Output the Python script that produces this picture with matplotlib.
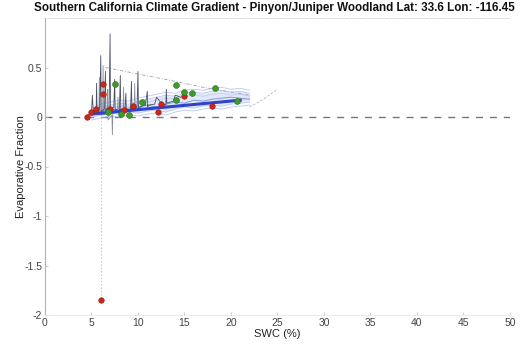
import matplotlib
matplotlib.use("Agg")
import matplotlib.pyplot as plt
import numpy as np

plt.rcParams['font.family'] = ['Liberation Sans', 'DejaVu Sans']

# Daily evaporative fraction traces vs soil water content
spike_x = [4.6, 5.0, 5.1, 5.2, 5.5, 5.55, 5.6, 5.9, 6.0, 6.05, 6.1, 6.4, 6.5, 6.55, 6.6,
           6.9, 7.0, 7.05, 7.1, 7.4, 7.5, 7.55, 7.6, 8.0, 8.1, 8.15, 8.2, 8.6, 8.7, 8.75,
           8.8, 9.2, 9.3, 9.35, 9.4, 9.9, 10.0, 10.05, 10.1, 10.8, 11.0, 11.05, 11.1,
           11.8, 12.0, 12.6, 13.0, 13.05, 13.1, 13.8, 14.0, 14.6]
spike_y = [0.02, 0.04, 0.22, 0.05, 0.06, 0.34, 0.05, 0.10, 0.62, 0.02, 0.06, 0.08, 0.46,
           0.04, 0.08, 0.10, 0.84, 0.03, 0.08, 0.10, 0.38, 0.05, 0.08, 0.06, 0.42, 0.06,
           0.08, 0.08, 0.24, 0.05, 0.08, 0.07, 0.36, 0.06, 0.09, 0.10, 0.46, 0.08, 0.10,
           0.12, 0.26, 0.10, 0.12, 0.13, 0.20, 0.13, 0.12, 0.28, 0.14, 0.16, 0.22, 0.20]

spike2_x = [5.3, 5.8, 5.85, 5.9, 6.2, 6.25, 6.3, 6.7, 6.75, 6.8, 7.2, 7.25, 7.3, 7.8, 7.85,
            7.9, 8.4, 8.45, 8.5, 9.6, 9.65, 9.7, 10.4]
spike2_y = [0.05, 0.06, 0.40, 0.04, 0.05, 0.52, 0.02, 0.04, 0.28, -0.03, 0.02, -0.18, 0.04,
            0.06, 0.20, 0.05, 0.07, 0.30, 0.06, 0.08, 0.34, 0.08, 0.10]

band_x = [5.0, 6.0, 7.0, 8.0, 9.0, 10.0, 11.0, 12.0, 13.0, 14.0, 15.0, 16.0, 17.0, 18.0, 19.0,
          20.0, 21.0, 22.0]
band_hi = [0.06, 0.10, 0.12, 0.14, 0.13, 0.16, 0.18, 0.20, 0.22, 0.21, 0.24, 0.25, 0.24,
           0.26, 0.27, 0.25, 0.26, 0.24]
band_lo = [0.00, 0.02, 0.04, 0.03, 0.05, 0.04, 0.06, 0.07, 0.05, 0.08, 0.10, 0.09, 0.11,
           0.12, 0.11, 0.13, 0.14, 0.15]
band_mid = [0.03, 0.06, 0.08, 0.07, 0.09, 0.10, 0.12, 0.10, 0.13, 0.15, 0.14, 0.17, 0.16,
            0.18, 0.19, 0.20, 0.19, 0.18]

diag_x = [6.5, 13.5, 17.0, 22.0]
diag_y = [0.50, 0.37, 0.30, 0.22]
tail_x = [22.0, 23.5, 25.0]
tail_y = [0.10, 0.18, 0.28]

drop_x = [6.0, 6.0]
drop_y = [0.0, -1.85]

red_x = [4.5, 5.0, 5.5, 6.2, 6.2, 7.0, 8.5, 9.5, 12.2, 12.5, 15.0, 18.0, 6.0]
red_y = [0.00, 0.05, 0.08, 0.33, 0.23, 0.08, 0.07, 0.11, 0.05, 0.13, 0.21, 0.11, -1.85]

green_x = [7.5, 6.8, 8.2, 9.0, 10.4, 14.1, 14.1, 15.0, 15.8, 18.3, 20.6]
green_y = [0.33, 0.05, 0.03, 0.02, 0.15, 0.32, 0.17, 0.25, 0.24, 0.29, 0.16]

trend_x = [5.0, 21.0]
trend_y = [0.03, 0.17]

fig = plt.figure(figsize=(5.23, 3.60), dpi=100)
ax = fig.add_axes([0.086, 0.125, 0.889, 0.825])

ax.axhline(0, color='#6a7a8a', lw=1.0, ls=(0, (5, 5)), zorder=1)

for off in (-0.03, 0.0, 0.03):
    ax.plot(band_x, np.array(band_hi) + off, color='#a9b8ee', lw=0.6, alpha=0.8, zorder=2)
    ax.plot(band_x, np.array(band_lo) + off, color='#a9b8ee', lw=0.6, alpha=0.8, zorder=2)
ax.fill_between(band_x, band_lo, band_hi, color='#c9d3f5', alpha=0.5, lw=0, zorder=2)
ax.plot(band_x, band_mid, color='#8596e0', lw=0.7, zorder=3)

ax.plot(diag_x, diag_y, color='#9aa0aa', lw=0.6, ls=(0, (4, 2, 1, 2)), zorder=2)
ax.plot(tail_x, tail_y, color='#b0b6c0', lw=0.6, ls=(0, (3, 2)), zorder=2)
ax.plot(drop_x, drop_y, color='#a9c4e8', lw=0.6, ls=(0, (2, 2)), zorder=2)

ax.plot(spike2_x, spike2_y, color='#8a8f9a', lw=0.6, zorder=3)
ax.plot(spike_x, spike_y, color='#4a5268', lw=0.6, zorder=4)

ax.plot(trend_x, trend_y, color='#2f44cc', lw=2.2, zorder=5)

ax.scatter(red_x, red_y, s=16, color='#c8281e', edgecolors='#a01810', linewidths=0.4, zorder=6)
ax.scatter(green_x, green_y, s=18, color='#3f9a2a', edgecolors='#2a7018', linewidths=0.4,
           zorder=6)

ax.set_xlim(0, 50)
ax.set_ylim(-2, 1)
ax.set_xticks(np.arange(0, 51, 5))
ax.set_yticks([-2, -1.5, -1, -0.5, 0, 0.5])
ax.set_yticklabels(['-2', '-1.5', '-1', '-0.5', '0', '0.5'])

ax.spines['right'].set_visible(False)
ax.spines['left'].set_color('#a8b4cc')
ax.spines['left'].set_linewidth(0.8)
ax.spines['bottom'].set_color('#e4e6ea')
ax.spines['bottom'].set_linewidth(0.6)
ax.spines['top'].set_color('#c4c8d0')
ax.spines['top'].set_linewidth(0.6)
ax.spines['top'].set_linestyle((0, (1, 2)))

ax.tick_params(axis='both', direction='in', length=2, width=0.5, color='#b0b8c8',
               labelsize=7.5, labelcolor='#444444', pad=2)

ax.set_xlabel('SWC (%)', fontsize=8, color='#222222', labelpad=1)
ax.set_ylabel('Evaporative Fraction', fontsize=8, color='#222222', labelpad=-1)
fig.text(0.525, 0.977, 'Southern California Climate Gradient - Pinyon/Juniper Woodland Lat: 33.6 Lon: -116.45',
         ha='center', va='center', fontsize=8.4, fontweight='bold', color='#111111')

fig.savefig('out.png', dpi=100)
